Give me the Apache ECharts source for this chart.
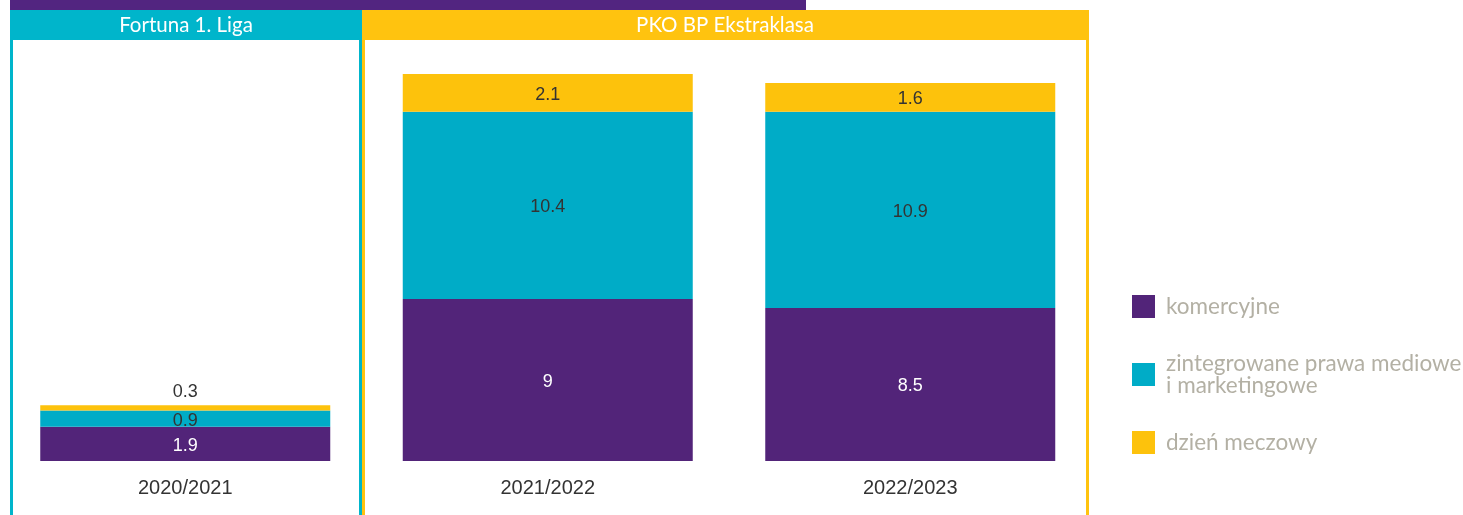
<!DOCTYPE html>
<html>
<head>
<meta charset="utf-8">
<script src="https://cdn.jsdelivr.net/npm/echarts@6/dist/echarts.min.js"></script>
<style>
  html, body { margin: 0; padding: 0; background: #fff; }
  #chart { width: 1463px; height: 515px; }
</style>
</head>
<body>
<div id="chart"></div>
<script>
// data
const seasons = ['2020/2021', '2021/2022', '2022/2023']
const komercyjne = [1.9, 9, 8.5]
const mediowe = [0.9, 10.4, 10.9]
const dzienMeczowy = [0.3, 2.1, 1.6]
const seriesNames = ['komercyjne', 'zintegrowane prawa mediowe\ni marketingowe', 'dzień meczowy']
const leagues = ['Fortuna 1. Liga', 'PKO BP Ekstraklasa']

const colorList = ['#522479', '#00acc7', '#fdc20c']
const headerColors = ['#00b5cb', '#ffc30f']

const chart = echarts.init(document.getElementById('chart'))

const labelBase = {
  show: true,
  position: 'inside',
  fontFamily: 'Liberation Sans',
  fontSize: 18,
  offset: [0, 2]
}

// yellow segment of the small first bar has its label above
const dzienData = dzienMeczowy.map((v, i) => i === 0
  ? { value: v, label: { position: 'top', distance: 4, offset: [0, 0] } }
  : v)

const option = {
  animation: false,
  grid: {
    left: 4,
    right: 371.5,
    top: 29,
    bottom: 54,
    containLabel: false
  },
  legend: {
    orient: 'vertical',
    left: 1132,
    top: 295,
    padding: 0,
    itemWidth: 23,
    itemHeight: 23,
    itemGap: 34,
    icon: 'rect',
    data: seriesNames,
    textStyle: {
      color: '#b3b0a4',
      fontFamily: 'Lato',
      fontSize: 22.5,
      lineHeight: 22,
      padding: [0, 0, 0, 6]
    }
  },
  xAxis: {
    type: 'category',
    data: seasons,
    axisLine: { show: false },
    axisTick: { show: false },
    axisLabel: {
      color: '#333',
      fontFamily: 'Liberation Sans',
      fontSize: 20,
      margin: 17
    }
  },
  yAxis: {
    type: 'value',
    min: 0,
    max: 24,
    show: false,
    splitLine: { show: false }
  },
  series: [
    {
      name: seriesNames[0],
      type: 'bar',
      stack: 'total',
      barWidth: 290,
      data: komercyjne,
      itemStyle: { color: colorList[0] },
      label: Object.assign({}, labelBase, { color: '#fff' })
    },
    {
      name: seriesNames[1],
      type: 'bar',
      stack: 'total',
      barWidth: 290,
      data: mediowe,
      itemStyle: { color: colorList[1] },
      label: Object.assign({}, labelBase, { color: '#333' })
    },
    {
      name: seriesNames[2],
      type: 'bar',
      stack: 'total',
      barWidth: 290,
      data: dzienData,
      itemStyle: { color: colorList[2] },
      label: Object.assign({}, labelBase, { color: '#333' })
    }
  ],
  graphic: [
    // cropped title strip
    { type: 'rect', shape: { x: 10, y: 0, width: 796, height: 10 }, style: { fill: '#522580' } },
    // panel headers
    { type: 'rect', shape: { x: 10, y: 10, width: 352, height: 30 }, style: { fill: headerColors[0] } },
    { type: 'rect', shape: { x: 362, y: 10, width: 727, height: 30 }, style: { fill: headerColors[1] } },
    // panel borders
    { type: 'rect', shape: { x: 10, y: 40, width: 3, height: 475 }, style: { fill: headerColors[0] } },
    { type: 'rect', shape: { x: 359, y: 40, width: 3, height: 475 }, style: { fill: headerColors[0] } },
    { type: 'rect', shape: { x: 362, y: 40, width: 3, height: 475 }, style: { fill: headerColors[1] } },
    { type: 'rect', shape: { x: 1086, y: 40, width: 3, height: 475 }, style: { fill: headerColors[1] } },
    {
      type: 'text', x: 186, y: 25,
      style: { text: leagues[0], fill: '#fff', font: '20.5px Lato', textAlign: 'center', textVerticalAlign: 'middle' }
    },
    {
      type: 'text', x: 725, y: 25,
      style: { text: leagues[1], fill: '#fff', font: '20.5px Lato', textAlign: 'center', textVerticalAlign: 'middle' }
    }
  ]
}

option && chart.setOption(option)
</script>
</body>
</html>
